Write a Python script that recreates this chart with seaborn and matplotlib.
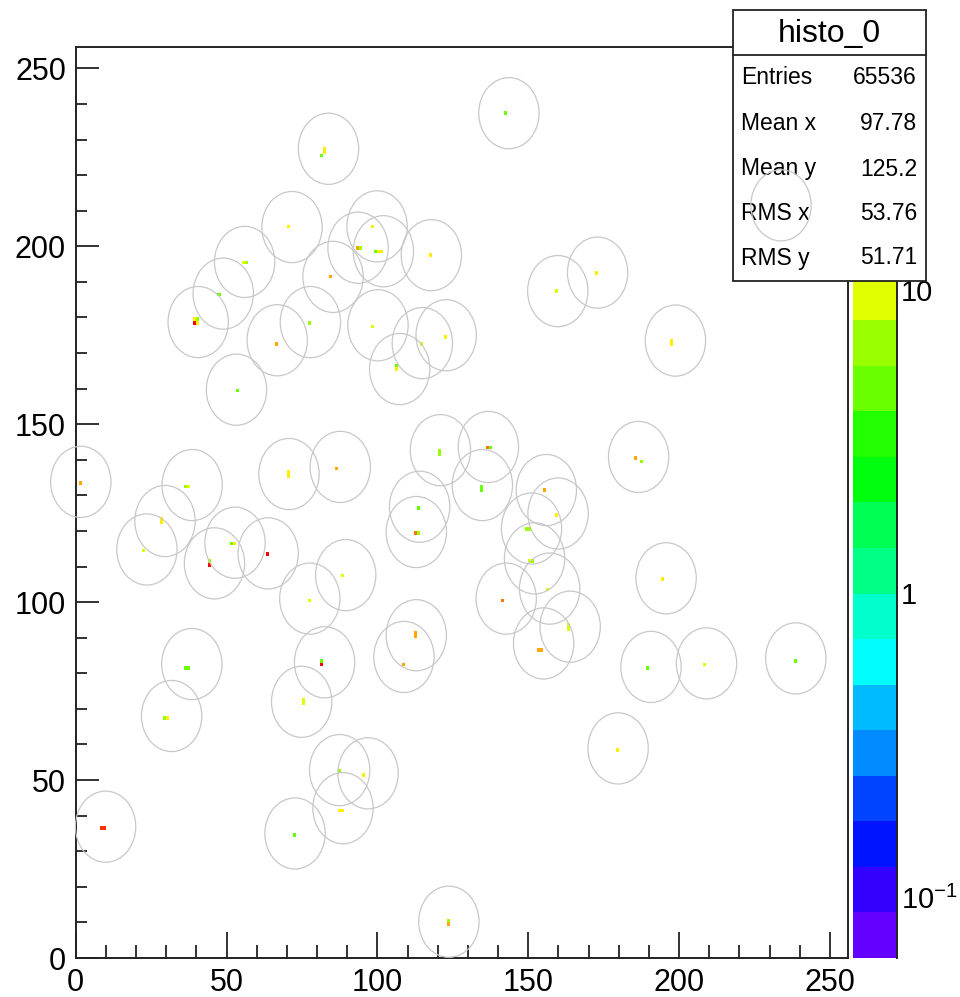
import colorsys
import numpy as np
import matplotlib
matplotlib.use("Agg")
from matplotlib import pyplot as plt
from matplotlib.colors import ListedColormap, LogNorm
from matplotlib.patches import Circle, Rectangle
from matplotlib.lines import Line2D
from matplotlib.ticker import LogLocator, NullFormatter, MultipleLocator
import seaborn as sns

# circle centres (data units), radius 10
circle_x = [143.6, 83.8, 71.7, 56.0, 48.9, 40.6, 77.8, 66.8, 53.3, 99.9, 93.6, 102.0, 117.9,
            85.3, 159.8, 173.0, 100.2, 122.8, 114.9, 107.4, 198.8, 233.8, 1.7, 38.6, 29.6,
            23.6, 70.7, 87.7, 46.0, 52.8, 63.8, 77.6, 89.5, 38.5, 82.5, 120.9, 136.8, 134.8,
            114.0, 112.9, 156.0, 159.9, 151.1, 152.1, 157.1, 142.7, 163.9, 155.1, 112.9,
            108.8, 186.6, 195.7, 190.7, 209.1, 238.7, 179.8, 31.8, 9.9, 74.9, 72.7, 87.5,
            96.9, 88.6, 123.7]
circle_y = [237.4, 227.4, 205.4, 195.6, 186.7, 178.7, 178.7, 173.6, 159.7, 205.6, 199.6,
            198.6, 197.5, 191.4, 187.4, 192.6, 177.8, 175.0, 172.8, 165.5, 173.5, 211.5,
            133.8, 132.9, 122.8, 114.8, 136.0, 138.0, 110.9, 116.7, 113.7, 101.0, 107.6,
            82.6, 83.1, 142.7, 143.6, 132.9, 126.8, 119.7, 131.5, 124.9, 120.7, 112.3, 103.8,
            101.0, 93.1, 88.4, 90.7, 84.6, 140.8, 106.7, 81.8, 82.8, 84.2, 58.9, 68.0, 36.9,
            72.0, 35.0, 52.8, 51.9, 42.1, 10.2]
hidden_circle = 21  # the one drawn over the stats box

# filled bins (bin index x, bin index y, content)
bin_x = [142, 82, 82, 81, 70, 55, 56, 47, 39, 39, 40, 40, 77, 66, 53, 98, 93, 94, 99, 100, 101,
         117, 84, 159, 172, 98, 122, 114, 106, 106, 197, 197, 232, 1, 36, 37, 28, 28, 22, 70,
         70, 86, 44, 44, 51, 52, 63, 77, 88, 36, 37, 81, 81, 120, 120, 136, 137, 134, 134, 113,
         112, 113, 155, 159, 149, 150, 150, 151, 156, 141, 163, 163, 153, 154, 112, 112, 108,
         185, 187, 194, 189, 208, 238, 179, 29, 30, 8, 9, 75, 75, 72, 87, 95, 87, 88, 123, 123]
bin_y = [237, 227, 226, 225, 205, 195, 195, 186, 178, 179, 179, 178, 178, 172, 159, 205, 199,
         199, 198, 198, 198, 197, 191, 187, 192, 177, 174, 172, 166, 165, 172, 173, 211, 133,
         132, 132, 122, 123, 114, 135, 136, 137, 111, 110, 116, 116, 113, 100, 107, 81, 81, 82,
         83, 141, 142, 143, 143, 131, 132, 126, 119, 119, 131, 124, 120, 120, 111, 111, 103,
         100, 92, 93, 86, 86, 90, 91, 82, 140, 139, 106, 81, 82, 83, 58, 67, 67, 36, 36, 71,
         72, 34, 52, 51, 41, 41, 10, 9]
bin_val = [5, 12, 12, 5, 13, 9, 6, 5, 55, 13, 6, 13, 6, 20, 5, 13, 20, 6, 5, 13, 13,
           13, 20, 11, 13, 9, 12, 9, 5, 12, 13, 13, 10, 20, 6, 8, 13, 13, 10, 13,
           13, 20, 6, 55, 5, 13, 55, 9, 11, 5, 5, 55, 5, 6, 6, 27, 5, 5, 5, 5,
           27, 6, 20, 13, 6, 7, 11, 6, 9, 27, 9, 9, 20, 20, 20, 20, 20,
           20, 6, 13, 5, 10, 5, 13, 6, 13, 35, 35, 10, 10, 5, 6, 13, 13, 13, 6, 20]

stat_names = ["Entries", "Mean x", "Mean y", "RMS x", "RMS y"]
stat_values = ["65536", "97.78", "125.2", "53.76", "51.71"]
hist_name = "histo_0"

z_min, z_max = 0.063, 63.0
n_contours = 20

# ROOT "pretty" palette (50 colours), picked for 20 contours
palette = []
for i in range(n_contours):
    k = int((i + 0.99) * 50 / n_contours)
    hue = 280 - (k + 1) * 280 / 50
    palette.append(colorsys.hsv_to_rgb(hue / 360.0, 1, 1))
cmap = ListedColormap(palette)

counts = np.zeros((256, 256))
for bx, by, v in zip(bin_x, bin_y, bin_val):
    counts[by, bx] = v

sns.set_style("white")
plt.rcParams['font.family'] = ['Liberation Sans', 'DejaVu Sans']
plt.rcParams['mathtext.fontset'] = 'custom'
plt.rcParams['mathtext.rm'] = 'Liberation Sans'
plt.rcParams['text.color'] = 'black'
plt.rcParams['xtick.color'] = 'black'
plt.rcParams['ytick.color'] = 'black'

W, H = 960, 997
fig = plt.figure(figsize=(W / 100, H / 100), dpi=100)
ax = fig.add_axes([75.7 / W, 39 / H, (848 - 75.7) / W, (958 - 47) / H])
cax = fig.add_axes([853 / W, 39 / H, 44 / W, (958 - 47) / H])

sns.heatmap(counts, mask=counts == 0, cmap=cmap, norm=LogNorm(vmin=z_min, vmax=z_max),
            ax=ax, cbar_ax=cax, xticklabels=False, yticklabels=False)

ax.set_xlim(0, 256)
ax.set_ylim(0, 256)
for s in ax.spines.values():
    s.set_visible(True)
    s.set_color('#222222')
    s.set_linewidth(1.4)

ax.set_xticks(range(0, 251, 50))
ax.set_xticklabels([str(v) for v in range(0, 251, 50)])
ax.set_yticks(range(0, 251, 50))
ax.set_yticklabels([str(v) for v in range(0, 251, 50)])
ax.xaxis.set_minor_locator(MultipleLocator(10))
ax.yaxis.set_minor_locator(MultipleLocator(10))
ax.tick_params(axis='x', which='major', direction='in', length=19, width=1.3,
               labelsize=22, pad=7, bottom=True, top=False, color='#222222',
               labelcolor='black')
ax.tick_params(axis='x', which='minor', direction='in', length=9.5, width=1.3,
               bottom=True, top=False, color='#222222')
ax.tick_params(axis='y', which='major', direction='in', length=16.5, width=1.3,
               labelsize=22, pad=7, left=True, right=False, color='#222222',
               labelcolor='black')
ax.tick_params(axis='y', which='minor', direction='in', length=8, width=1.3,
               left=True, right=False, color='#222222')
ax.set_xlabel('')
ax.set_ylabel('')

for i, (cx, cy) in enumerate(zip(circle_x, circle_y)):
    c = Circle((cx, cy), 10, fill=False, edgecolor='#c8c8c8', linewidth=0.9,
               clip_on=False, zorder=5, transform=ax.transData)
    if i == hidden_circle:
        c.set_zorder(8)
        fig.add_artist(c)
    else:
        ax.add_patch(c)

# colour bar axis
cax.yaxis.set_ticks_position('right')
cax.set_yticks([0.1, 1, 10])
cax.set_yticklabels([r'$\mathregular{10^{-1}}$', '1', '10'])
cax.yaxis.set_minor_locator(LogLocator(base=10, subs=range(2, 10)))
cax.yaxis.set_minor_formatter(NullFormatter())
cax.tick_params(axis='y', which='major', direction='in', length=16, width=1.3,
                labelsize=21, pad=3, color='#222222', labelcolor='black')
cax.tick_params(axis='y', which='minor', direction='in', length=9, width=1.3,
                color='#222222')
cax.spines['right'].set_visible(True)
cax.spines['right'].set_color('#222222')
cax.spines['right'].set_linewidth(1.4)

# stats box
bx0, bx1 = 733 / W, 925.5 / W
by0, by1 = 1 - 281 / H, 1 - 10 / H
fig.add_artist(Rectangle((bx0, by0), bx1 - bx0, by1 - by0, transform=fig.transFigure,
                         facecolor='white', edgecolor='#222222', linewidth=1.3, zorder=4))
sep = 1 - 55 / H
fig.add_artist(Line2D([bx0, bx1], [sep, sep], transform=fig.transFigure,
                      color='#222222', linewidth=1.3, zorder=4))
fig.text((bx0 + bx1) / 2, 1 - 34 / H, hist_name, ha='center', va='center',
         fontsize=23, zorder=5)
row_y = [77, 123, 169, 214, 258]
for name, val, ry in zip(stat_names, stat_values, row_y):
    fig.text(741 / W, 1 - ry / H, name, ha='left', va='center', fontsize=16.5, zorder=5)
    fig.text(917 / W, 1 - ry / H, val, ha='right', va='center', fontsize=16.5, zorder=5)

fig.savefig('out.png', dpi=100)
